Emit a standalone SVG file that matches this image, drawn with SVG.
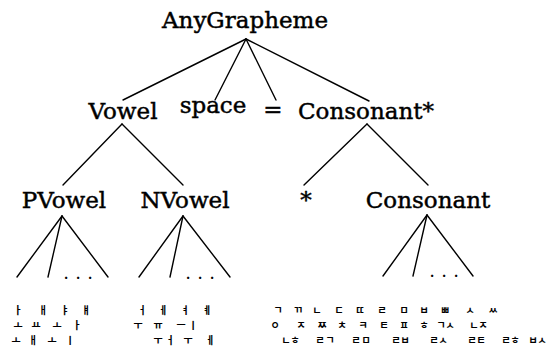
<svg xmlns="http://www.w3.org/2000/svg" width="549" height="353" viewBox="0 0 549 353">
<style>
.lbl{font-family:"DejaVu Serif","Liberation Serif",serif;font-size:23px;fill:#000;stroke:#000;stroke-width:0.45;text-anchor:middle}
.dots{font-family:"DejaVu Serif","Liberation Serif",serif;font-size:18px;fill:#000;text-anchor:middle}
.jv{font-family:"Noto Sans CJK KR","Noto Sans",sans-serif;font-size:10px;font-weight:bold;fill:#000;text-anchor:middle}
.jc{font-family:"Noto Sans CJK KR","Noto Sans",sans-serif;font-size:10px;font-weight:bold;fill:#000;text-anchor:middle}
.edge{stroke:#000;stroke-width:1.4;fill:none;stroke-linecap:round}
</style>
<rect width="549" height="353" fill="#fff"/>
<g id="connectors" class="edge">
<line x1="246" y1="39" x2="123" y2="100"/>
<line x1="246" y1="39" x2="215" y2="100"/>
<line x1="246" y1="39" x2="276" y2="100"/>
<line x1="246" y1="39" x2="369" y2="101"/>
<line x1="122" y1="124" x2="63" y2="185"/>
<line x1="122" y1="124" x2="183" y2="185"/>
<line x1="367" y1="124" x2="304" y2="185"/>
<line x1="367" y1="124" x2="428" y2="185"/>
<line x1="62" y1="216" x2="17" y2="277"/>
<line x1="62" y1="216" x2="48" y2="277"/>
<line x1="62" y1="216" x2="108" y2="277"/>
<line x1="183" y1="216" x2="139" y2="277"/>
<line x1="183" y1="216" x2="170" y2="277"/>
<line x1="183" y1="216" x2="230" y2="277"/>
<line x1="427" y1="215" x2="383" y2="276"/>
<line x1="427" y1="215" x2="413" y2="276"/>
<line x1="427" y1="215" x2="473" y2="276"/>
</g>
<g id="n-anygrapheme"><text class="lbl" x="245" y="28">AnyGrapheme</text></g>
<g id="n-vowel"><text class="lbl" x="123" y="119">Vowel</text></g>
<g id="n-space"><text class="lbl" x="213" y="113">space</text></g>
<g id="n-eq"><text class="lbl" x="273" y="117">=</text></g>
<g id="n-consonant-star"><text class="lbl" x="366" y="119">Consonant*</text></g>
<g id="n-pvowel"><text class="lbl" x="64" y="208">PVowel</text></g>
<g id="n-nvowel"><text class="lbl" x="185" y="208">NVowel</text></g>
<g id="n-star"><text class="lbl" x="306" y="208">*</text></g>
<g id="n-consonant"><text class="lbl" x="428" y="208">Consonant</text></g>
<g id="dots">
<text class="dots" x="66 78 90" y="279">...</text>
<text class="dots" x="188 200 212" y="279">...</text>
<text class="dots" x="432 444 456" y="277">...</text>
</g>
<g id="leaf-pvowel">
<text class="jv" x="18 43 65 86" y="314">ㅏㅐㅑㅒ</text>
<text class="jv" x="18 36 57 77" y="329">ㅗㅛㅗㅏ</text>
<text class="jv" x="16 33 52 70" y="344">ㅗㅐㅗㅣ</text>
</g>
<g id="leaf-nvowel">
<text class="jv" x="142 163 185 207" y="314">ㅓㅔㅕㅖ</text>
<text class="jv" x="138 158 181 193" y="329">ㅜㅠㅡㅣ</text>
<text class="jv" x="158 170 188 210" y="344">ㅜㅓㅜㅔ</text>
</g>
<g id="leaf-consonant">
<text class="jc" x="278 298 317 339 360 382 404 424 445 470 493" y="314">ㄱㄲㄴㄷㄸㄹㅁㅂㅃㅅㅆ</text>
<text class="jc" x="275 301 322 342 363 384 404 424 441 450 474 483" y="329">ㅇㅈㅉㅊㅋㅌㅍㅎㄱㅅㄴㅈ</text>
<text class="jc" x="286 295 320 330 356 366 396 405 434 443 472 481 506 515 533 542" y="344">ㄴㅎㄹㄱㄹㅁㄹㅂㄹㅅㄹㅌㄹㅎㅂㅅ</text>
</g>
</svg>
